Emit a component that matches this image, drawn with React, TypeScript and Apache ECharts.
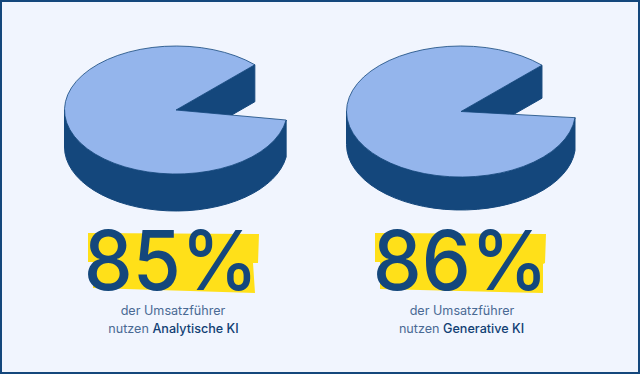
import React, { useEffect, useRef } from "react";
import * as echarts from "echarts";

const percentages = [85, 86];
const numberLabels = ["85%", "86%"];
const sharedLine = "der Umsatzführer";
const linePrefix = "nutzen ";
const boldNames = ["Analytische KI", "Generative KI"];

const DARK = "#14477c";
const LIGHT = "#94b5ec";
const BG = "#f1f5fe";
const YELLOW = "#ffe019";
const FONT = "Inter";

const pies = [
  { cx: 176, cy: 110, rx: 111.5, ry: 64, depth: 37, gapTop: 45 },
  { cx: 461, cy: 111.5, rx: 114.5, ry: 65.5, depth: 33, gapTop: 45 },
];

const tapes = [
  [[88, 233], [259, 234], [258, 263], [253, 263], [255, 293], [93, 288], [93, 262], [88, 262]],
  [[375, 233], [546, 234], [545, 263], [543, 264], [543, 293], [380, 289], [380, 262], [375, 262]],
];

const pieRenderer = (p: typeof pies[number]) => (_params: any, api: any) => {
  const share = api.value(0) as number;
  const start = (p.gapTop * Math.PI) / 180;
  const sweep = (share / 100) * Math.PI * 2;
  const end = start + sweep;
  const pt = (a: number) => [p.cx + p.rx * Math.cos(a), p.cy - p.ry * Math.sin(a)];
  const [sx, sy] = pt(start);
  const [ex, ey] = pt(end);
  const left = p.cx - p.rx;
  const topPath = `M${p.cx} ${p.cy}L${sx} ${sy}A${p.rx} ${p.ry} 0 1 0 ${ex} ${ey}Z`;
  const wallPath =
    `M${left} ${p.cy}A${p.rx} ${p.ry} 0 0 0 ${ex} ${ey}L${ex} ${ey + p.depth}` +
    `A${p.rx} ${p.ry} 0 0 1 ${left} ${p.cy + p.depth}Z`;
  const innerPath =
    `M${p.cx} ${p.cy}L${sx} ${sy}L${sx} ${sy + p.depth}L${p.cx} ${p.cy + p.depth}Z`;
  const dark = { fill: DARK, stroke: DARK, lineWidth: 1 };
  return {
    type: "group",
    children: [
      { type: "path", shape: { pathData: innerPath }, style: dark },
      { type: "path", shape: { pathData: wallPath }, style: dark },
      { type: "path", shape: { pathData: topPath }, style: { fill: LIGHT, stroke: DARK, lineWidth: 0.8 } },
    ],
  };
};

export default function App() {
  const ref = useRef<HTMLDivElement>(null);
  useEffect(() => {
    document.body.style.margin = "0";
    const chart = echarts.init(ref.current!, null, { renderer: "svg" });
    const centers = [
      { big: 171, sub1: 173, sub2: 173.5 },
      { big: 460.5, sub1: 462, sub2: 461.5 },
    ];
    const graphic: any[] = [
      { type: "rect", shape: { x: 1, y: 1, width: 638, height: 372 }, style: { fill: "transparent", stroke: DARK, lineWidth: 2 }, z: 1 },
    ];
    percentages.forEach((_, i) => {
      graphic.push({ type: "polygon", shape: { points: tapes[i] }, style: { fill: YELLOW }, z: 2 });
      graphic.push({
        type: "text", x: centers[i].big, y: 301, scaleX: 0.95, z: 3,
        style: { text: numberLabels[i], fill: DARK, font: `500 82px ${FONT}`, textAlign: "center", textVerticalAlign: "bottom" },
      });
      graphic.push({
        type: "text", x: centers[i].sub1, y: 310.5, z: 3,
        style: { text: sharedLine, fill: "#4a6a94", font: `400 12.6px ${FONT}`, textAlign: "center", textVerticalAlign: "middle" },
      });
      graphic.push({
        type: "text", x: centers[i].sub2, y: 328.5, z: 3,
        style: {
          text: `{a|${linePrefix}}{b|${boldNames[i]}}`,
          textAlign: "center", textVerticalAlign: "middle",
          rich: {
            a: { fill: "#4a6a94", font: `400 12.6px ${FONT}` },
            b: { fill: "#123f74", font: `500 12.6px ${FONT}` },
          },
        },
      });
    });
    chart.setOption({
      animation: false,
      backgroundColor: BG,
      graphic,
      series: percentages.map((v, i) => ({
        type: "custom",
        coordinateSystem: "none",
        silent: true,
        data: [[v]],
        renderItem: pieRenderer(pies[i]),
      })),
    });
    return () => chart.dispose();
  }, []);
  return <div ref={ref} style={{ width: 640, height: 374 }} />;
}
